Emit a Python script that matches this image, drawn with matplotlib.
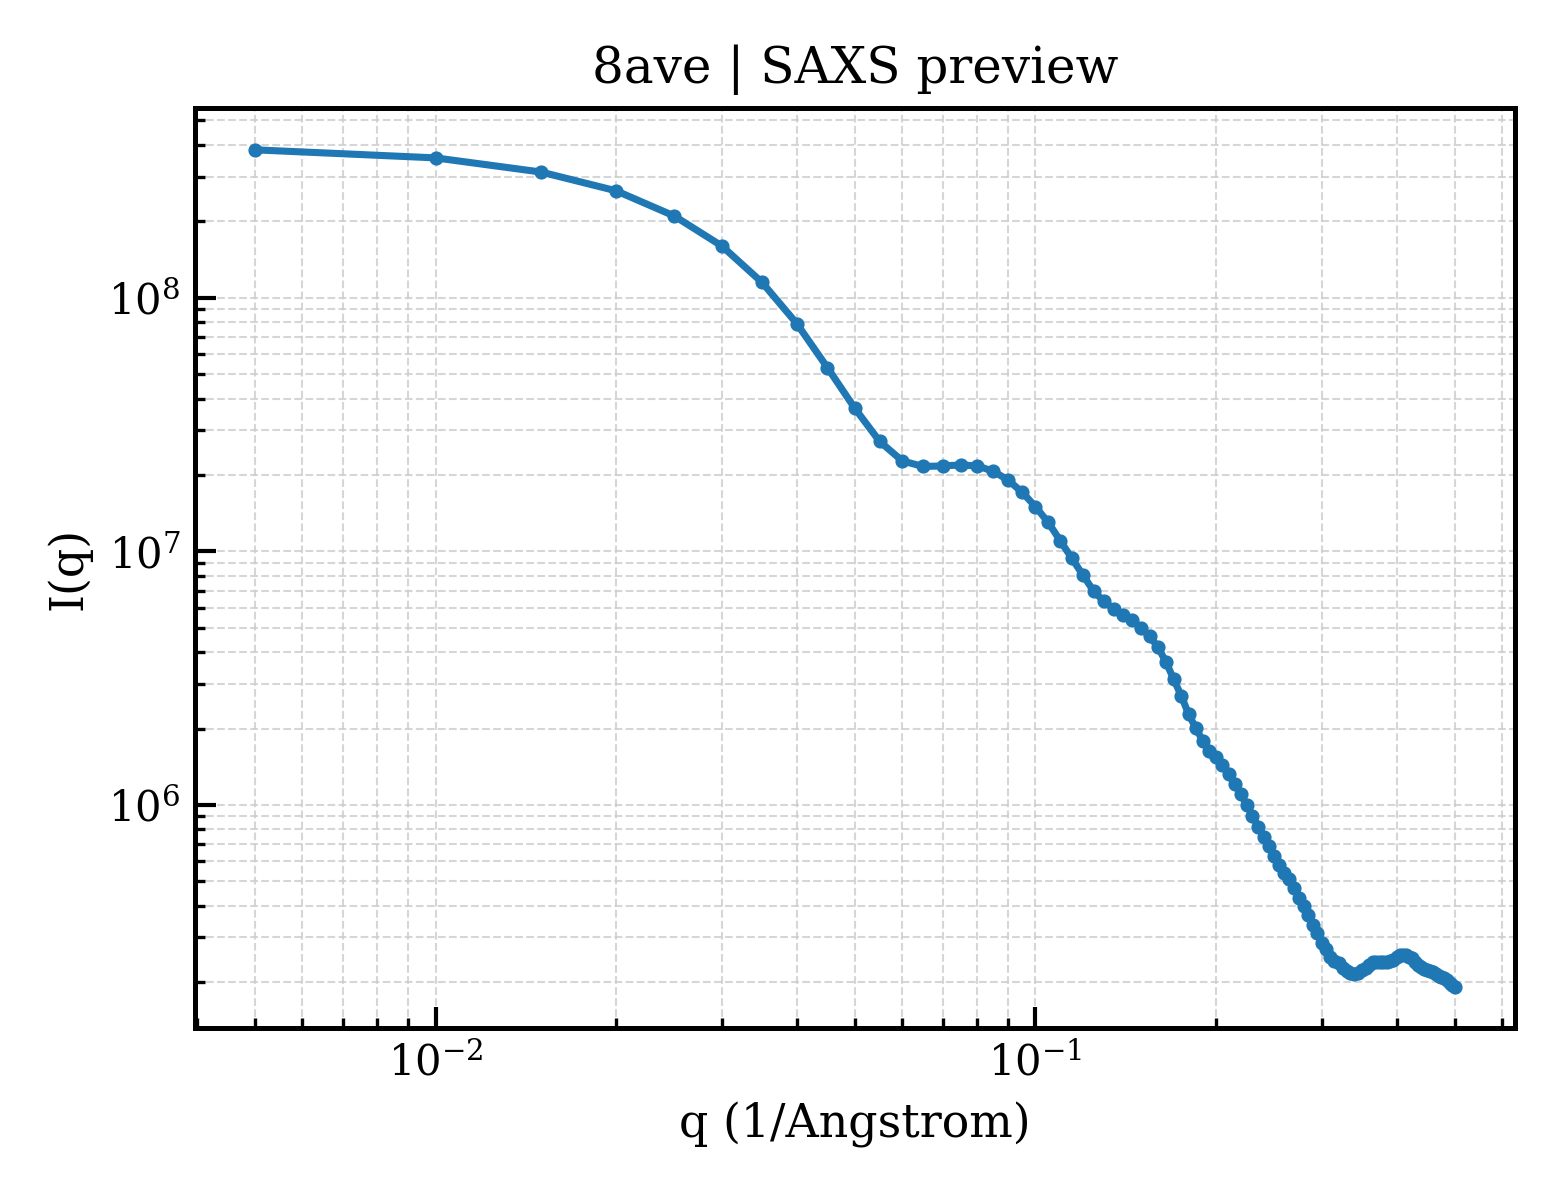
import numpy as np
import matplotlib
matplotlib.use("Agg")
import matplotlib.pyplot as plt

# q grid: 0.005 .. 0.5 in steps of 0.005
q = np.round(np.arange(1, 101) * 0.005, 3)

# I(q)
intensity = [
    3.83e8, 3.56e8, 3.13e8, 2.64e8, 2.10e8, 1.60e8, 1.15e8, 7.91e7, 5.30e7, 3.66e7,
    2.71e7, 2.27e7, 2.16e7, 2.17e7, 2.19e7, 2.17e7, 2.07e7, 1.91e7, 1.71e7, 1.50e7,
    1.30e7, 1.10e7, 9.38e6, 8.05e6, 6.97e6, 6.35e6, 5.92e6, 5.60e6, 5.35e6, 4.98e6,
    4.62e6, 4.19e6, 3.66e6, 3.13e6, 2.69e6, 2.28e6, 2.01e6, 1.79e6, 1.63e6, 1.55e6,
    1.43e6, 1.32e6, 1.21e6, 1.10e6, 1.00e6, 9.06e5, 8.19e5, 7.48e5, 6.90e5, 6.30e5,
    5.81e5, 5.40e5, 5.12e5, 4.71e5, 4.31e5, 4.00e5, 3.69e5, 3.37e5, 3.13e5, 2.86e5,
    2.69e5, 2.52e5, 2.43e5, 2.37e5, 2.28e5, 2.22e5, 2.18e5, 2.16e5, 2.18e5, 2.24e5,
    2.28e5, 2.34e5, 2.39e5, 2.39e5, 2.39e5, 2.39e5, 2.41e5, 2.43e5, 2.45e5, 2.50e5,
    2.55e5, 2.56e5, 2.56e5, 2.52e5, 2.48e5, 2.41e5, 2.34e5, 2.30e5, 2.26e5, 2.24e5,
    2.22e5, 2.20e5, 2.16e5, 2.12e5, 2.10e5, 2.07e5, 2.03e5, 1.99e5, 1.95e5, 1.92e5,
]

plt.rcParams["font.family"] = "serif"
plt.rcParams["font.serif"] = ["DejaVu Serif"]
plt.rcParams["mathtext.fontset"] = "dejavuserif"

fig, ax = plt.subplots(figsize=(5.2, 4), dpi=300)

ax.plot(q, intensity, marker="o", markersize=2.4, linewidth=1.7, color="#1f77b4")
ax.set_xscale("log")
ax.set_yscale("log")

ax.set_title("8ave | SAXS preview", fontsize=12)
ax.set_xlabel("q (1/Angstrom)", fontsize=11)
ax.set_ylabel("I(q)", fontsize=11)

ax.grid(True, which="both", linestyle="--", linewidth=0.5, color="#cccccc", alpha=0.8)
ax.tick_params(which="both", direction="in")
ax.tick_params(which="major", length=5, width=1)
ax.tick_params(which="minor", length=2.5, width=0.8)
ax.tick_params(labelsize=10)
for s in ax.spines.values():
    s.set_linewidth(1.2)

fig.subplots_adjust(left=0.125, right=0.971, top=0.91, bottom=0.143)
fig.savefig("out.png", dpi=300)
